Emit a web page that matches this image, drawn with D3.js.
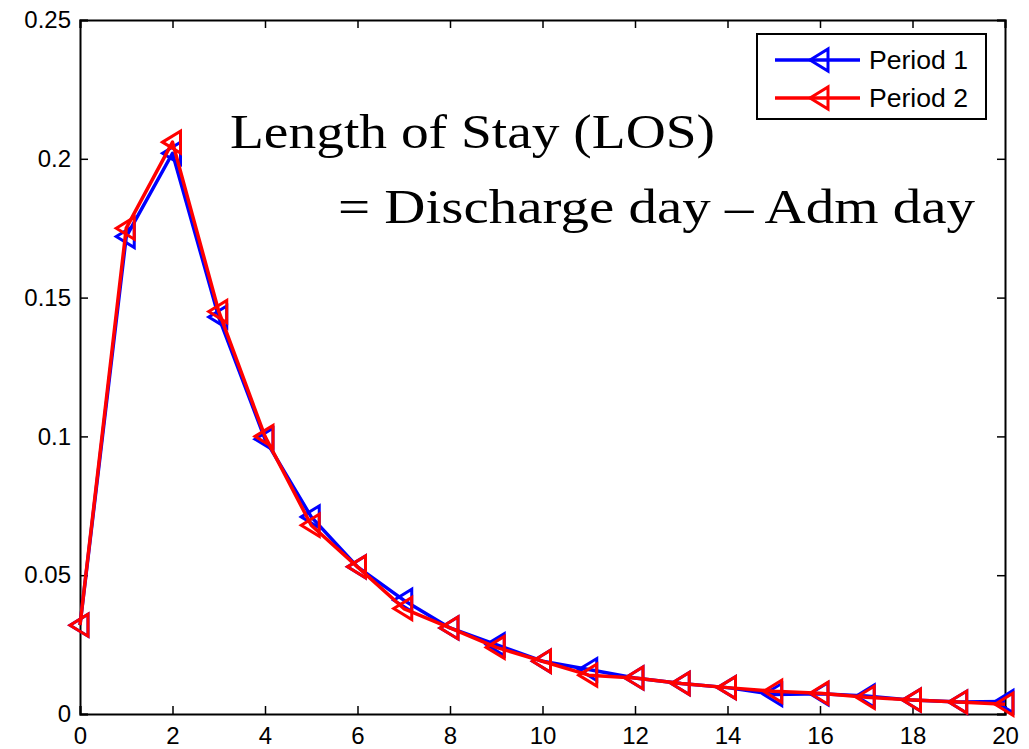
<!DOCTYPE html>
<html>
<head>
<meta charset="utf-8">
<script src="https://cdn.jsdelivr.net/npm/d3@7"></script>
<style>
  html, body { margin: 0; padding: 0; background: #fff; }
  svg { display: block; }
</style>
</head>
<body>
<svg id="chart" width="1029" height="749"></svg>
<script>
// Length-of-stay distribution (days) for two periods
const days = d3.range(0, 21);
const period1 = [0.032, 0.172, 0.202, 0.143, 0.099, 0.071, 0.053, 0.041, 0.031, 0.025,
                 0.019, 0.016, 0.013, 0.011, 0.0095, 0.007, 0.0073, 0.0065, 0.005, 0.0043, 0.0045];
const period2 = [0.032, 0.175, 0.206, 0.145, 0.100, 0.068, 0.053, 0.038, 0.031, 0.024,
                 0.019, 0.014, 0.013, 0.011, 0.0095, 0.0082, 0.0075, 0.006, 0.005, 0.0043, 0.0035];
const seriesNames = ["Period 1", "Period 2"];
const seriesColors = ["#0000ff", "#ff0000"];
const xTicks = [0, 2, 4, 6, 8, 10, 12, 14, 16, 18, 20];
const yTicks = [0, 0.05, 0.1, 0.15, 0.2, 0.25];
const yTickLabels = ["0", "0.05", "0.1", "0.15", "0.2", "0.25"];

const svg = d3.select("#chart");
const plotLeft = 80, plotRight = 1005, plotTop = 20, plotBottom = 714;

const x = d3.scaleLinear().domain([0, 20]).range([plotLeft, plotRight]);
const y = d3.scaleLinear().domain([0, 0.25]).range([plotBottom, plotTop]);

const tickFont = "'Liberation Sans', Arial, sans-serif";

// Axes with inward ticks on all four sides
const axisBottom = d3.axisBottom(x).tickValues(xTicks).tickSize(-8).tickPadding(13).tickFormat(d3.format("d"));
const axisTop = d3.axisTop(x).tickValues(xTicks).tickSize(-8).tickFormat("");
const axisLeft = d3.axisLeft(y).tickValues(yTicks).tickSize(-8).tickPadding(9)
  .tickFormat((d, i) => yTickLabels[i]);
const axisRight = d3.axisRight(y).tickValues(yTicks).tickSize(-8).tickFormat("");

function styleAxis(g) {
  g.select(".domain").attr("stroke", "#000").attr("stroke-width", 2);
  g.selectAll(".tick line").attr("stroke", "#000").attr("stroke-width", 1.5);
  g.selectAll(".tick text").attr("fill", "#000").style("font-family", tickFont).style("font-size", "24px");
}

svg.append("g").attr("transform", `translate(0,${plotBottom})`).call(axisBottom).call(styleAxis);
svg.append("g").attr("transform", `translate(0,${plotTop})`).call(axisTop).call(styleAxis);
svg.append("g").attr("transform", `translate(${plotLeft},0)`).call(axisLeft).call(styleAxis);
svg.append("g").attr("transform", `translate(${plotRight},0)`).call(axisRight).call(styleAxis);

// Left-pointing triangle marker
const tri = "M-10,0 L8,-11 L8,11 Z";

const line = d3.line().x((d, i) => x(days[i])).y(d => y(d));
const allSeries = [period1, period2];

allSeries.forEach((vals, s) => {
  const g = svg.append("g");
  g.append("path")
    .datum(vals)
    .attr("d", line)
    .attr("fill", "none")
    .attr("stroke", seriesColors[s])
    .attr("stroke-width", 3.5)
    .attr("stroke-linejoin", "round");
  g.selectAll("path.mk")
    .data(vals)
    .join("path")
    .attr("class", "mk")
    .attr("d", tri)
    .attr("transform", (d, i) => `translate(${x(days[i])},${y(d)})`)
    .attr("fill", "none")
    .attr("stroke", seriesColors[s])
    .attr("stroke-width", 3);
});

// Legend
const lg = svg.append("g");
lg.append("rect").attr("x", 757).attr("y", 34).attr("width", 229).attr("height", 85)
  .attr("fill", "#fff").attr("stroke", "#000").attr("stroke-width", 2);
seriesNames.forEach((name, s) => {
  const cy = 60 + s * 38;
  lg.append("line").attr("x1", 775).attr("x2", 860).attr("y1", cy).attr("y2", cy)
    .attr("stroke", seriesColors[s]).attr("stroke-width", 3.5);
  lg.append("path").attr("d", tri).attr("transform", `translate(820,${cy})`)
    .attr("fill", "none").attr("stroke", seriesColors[s]).attr("stroke-width", 3);
  lg.append("text").attr("x", 869).attr("y", cy + 9)
    .style("font-family", tickFont).style("font-size", "25px").attr("fill", "#000")
    .attr("textLength", 99).attr("lengthAdjust", "spacingAndGlyphs")
    .text(name);
});

// Definition annotation
const noteFont = "'Liberation Serif', 'DejaVu Serif', serif";
svg.append("text").attr("x", 230).attr("y", 148)
  .style("font-family", noteFont).style("font-size", "48px").attr("fill", "#000")
  .attr("textLength", 485).attr("lengthAdjust", "spacingAndGlyphs")
  .text("Length of Stay (LOS)");
svg.append("text").attr("x", 338).attr("y", 223)
  .style("font-family", noteFont).style("font-size", "48px").attr("fill", "#000")
  .attr("textLength", 637).attr("lengthAdjust", "spacingAndGlyphs")
  .text("= Discharge day \u2013 Adm day");
</script>
</body>
</html>
